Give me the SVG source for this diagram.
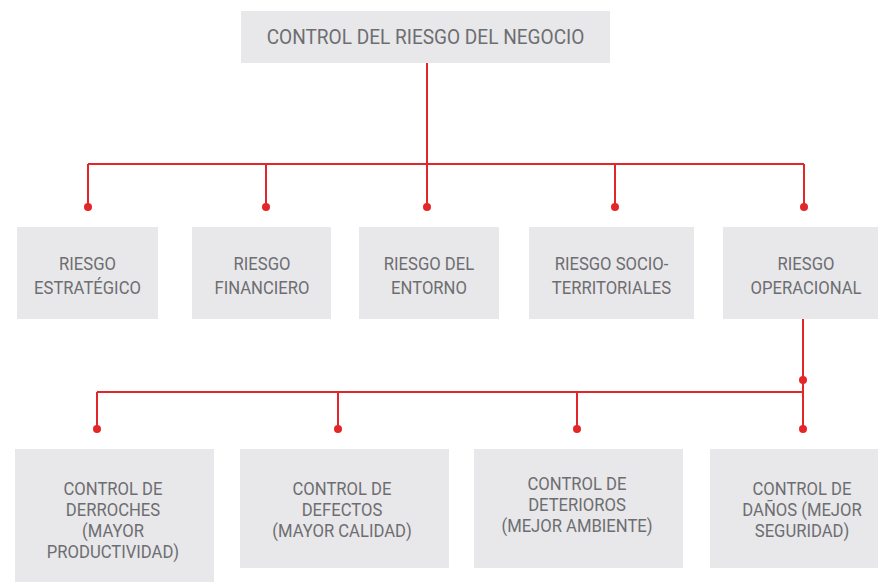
<svg xmlns="http://www.w3.org/2000/svg" width="878" height="582" viewBox="0 0 878 582">
<style>
.box{fill:#e8e7ea}
.t{font-family:Roboto,"Liberation Sans",sans-serif;font-size:18.5px;fill:#6d6e71;text-anchor:middle}
.tt{font-size:20.5px}
.ln{fill:none;stroke:#e3262a;stroke-width:2}
.dot{fill:#e3262a}
</style>
<rect width="878" height="582" fill="#ffffff"/>
<g id="connectors">
<path class="ln" d="M427 63V164M88 164H804M88 164V207M266 164V207M427 164V207M615 164V207M804 164V207"/>
<path class="ln" d="M803 319V392M97 392H803M97 392V429M338 392V429M577 392V429M803 392V429"/>
<circle class="dot" cx="88" cy="207" r="4"/>
<circle class="dot" cx="266" cy="207" r="4"/>
<circle class="dot" cx="427" cy="207" r="4"/>
<circle class="dot" cx="615" cy="207" r="4"/>
<circle class="dot" cx="804" cy="207" r="4"/>
<circle class="dot" cx="803" cy="380" r="4"/>
<circle class="dot" cx="97" cy="429" r="4"/>
<circle class="dot" cx="338" cy="429" r="4"/>
<circle class="dot" cx="577" cy="429" r="4"/>
<circle class="dot" cx="803" cy="429" r="4"/>
</g>
<g id="n-root">
<rect class="box" x="241" y="11" width="369" height="52"/>
<text class="t tt" transform="translate(425.5 44) scale(0.93 1)">CONTROL DEL RIESGO DEL NEGOCIO</text>
</g>
<g id="n-estrategico">
<rect class="box" x="17" y="227" width="141" height="92"/>
<text class="t" transform="translate(87.5 270) scale(0.9 1)">RIESGO</text>
<text class="t" transform="translate(87.5 294) scale(0.9 1)">ESTRATÉGICO</text>
</g>
<g id="n-financiero">
<rect class="box" x="192" y="227" width="139" height="92"/>
<text class="t" transform="translate(262 270) scale(0.9 1)">RIESGO</text>
<text class="t" transform="translate(262 294) scale(0.9 1)">FINANCIERO</text>
</g>
<g id="n-entorno">
<rect class="box" x="359" y="227" width="140" height="92"/>
<text class="t" transform="translate(429 270) scale(0.9 1)">RIESGO DEL</text>
<text class="t" transform="translate(429 294) scale(0.9 1)">ENTORNO</text>
</g>
<g id="n-socio">
<rect class="box" x="529" y="227" width="165" height="92"/>
<text class="t" transform="translate(611.5 270) scale(0.9 1)">RIESGO SOCIO-</text>
<text class="t" transform="translate(611.5 294) scale(0.9 1)">TERRITORIALES</text>
</g>
<g id="n-operacional">
<rect class="box" x="723" y="227" width="155" height="92"/>
<text class="t" transform="translate(806 270) scale(0.9 1)">RIESGO</text>
<text class="t" transform="translate(806 294) scale(0.9 1)">OPERACIONAL</text>
</g>
<g id="n-derroches">
<rect class="box" x="15" y="449" width="199" height="133"/>
<text class="t" transform="translate(113 495) scale(0.9 1)">CONTROL DE</text>
<text class="t" transform="translate(113 516) scale(0.9 1)">DERROCHES</text>
<text class="t" transform="translate(113 537) scale(0.9 1)">(MAYOR</text>
<text class="t" transform="translate(113 558) scale(0.9 1)">PRODUCTIVIDAD)</text>
</g>
<g id="n-defectos">
<rect class="box" x="240" y="449" width="209" height="119"/>
<text class="t" transform="translate(342 495) scale(0.9 1)">CONTROL DE</text>
<text class="t" transform="translate(342 516) scale(0.9 1)">DEFECTOS</text>
<text class="t" transform="translate(342 537) scale(0.9 1)">(MAYOR CALIDAD)</text>
</g>
<g id="n-deterioros">
<rect class="box" x="474" y="449" width="209" height="119"/>
<text class="t" transform="translate(577 490) scale(0.9 1)">CONTROL DE</text>
<text class="t" transform="translate(577 511) scale(0.9 1)">DETERIOROS</text>
<text class="t" transform="translate(577 532) scale(0.9 1)">(MEJOR AMBIENTE)</text>
</g>
<g id="n-danos">
<rect class="box" x="710" y="449" width="168" height="119"/>
<text class="t" transform="translate(802 495) scale(0.9 1)">CONTROL DE</text>
<text class="t" transform="translate(802 516) scale(0.9 1)">DAÑOS (MEJOR</text>
<text class="t" transform="translate(802 537) scale(0.9 1)">SEGURIDAD)</text>
</g>
</svg>
